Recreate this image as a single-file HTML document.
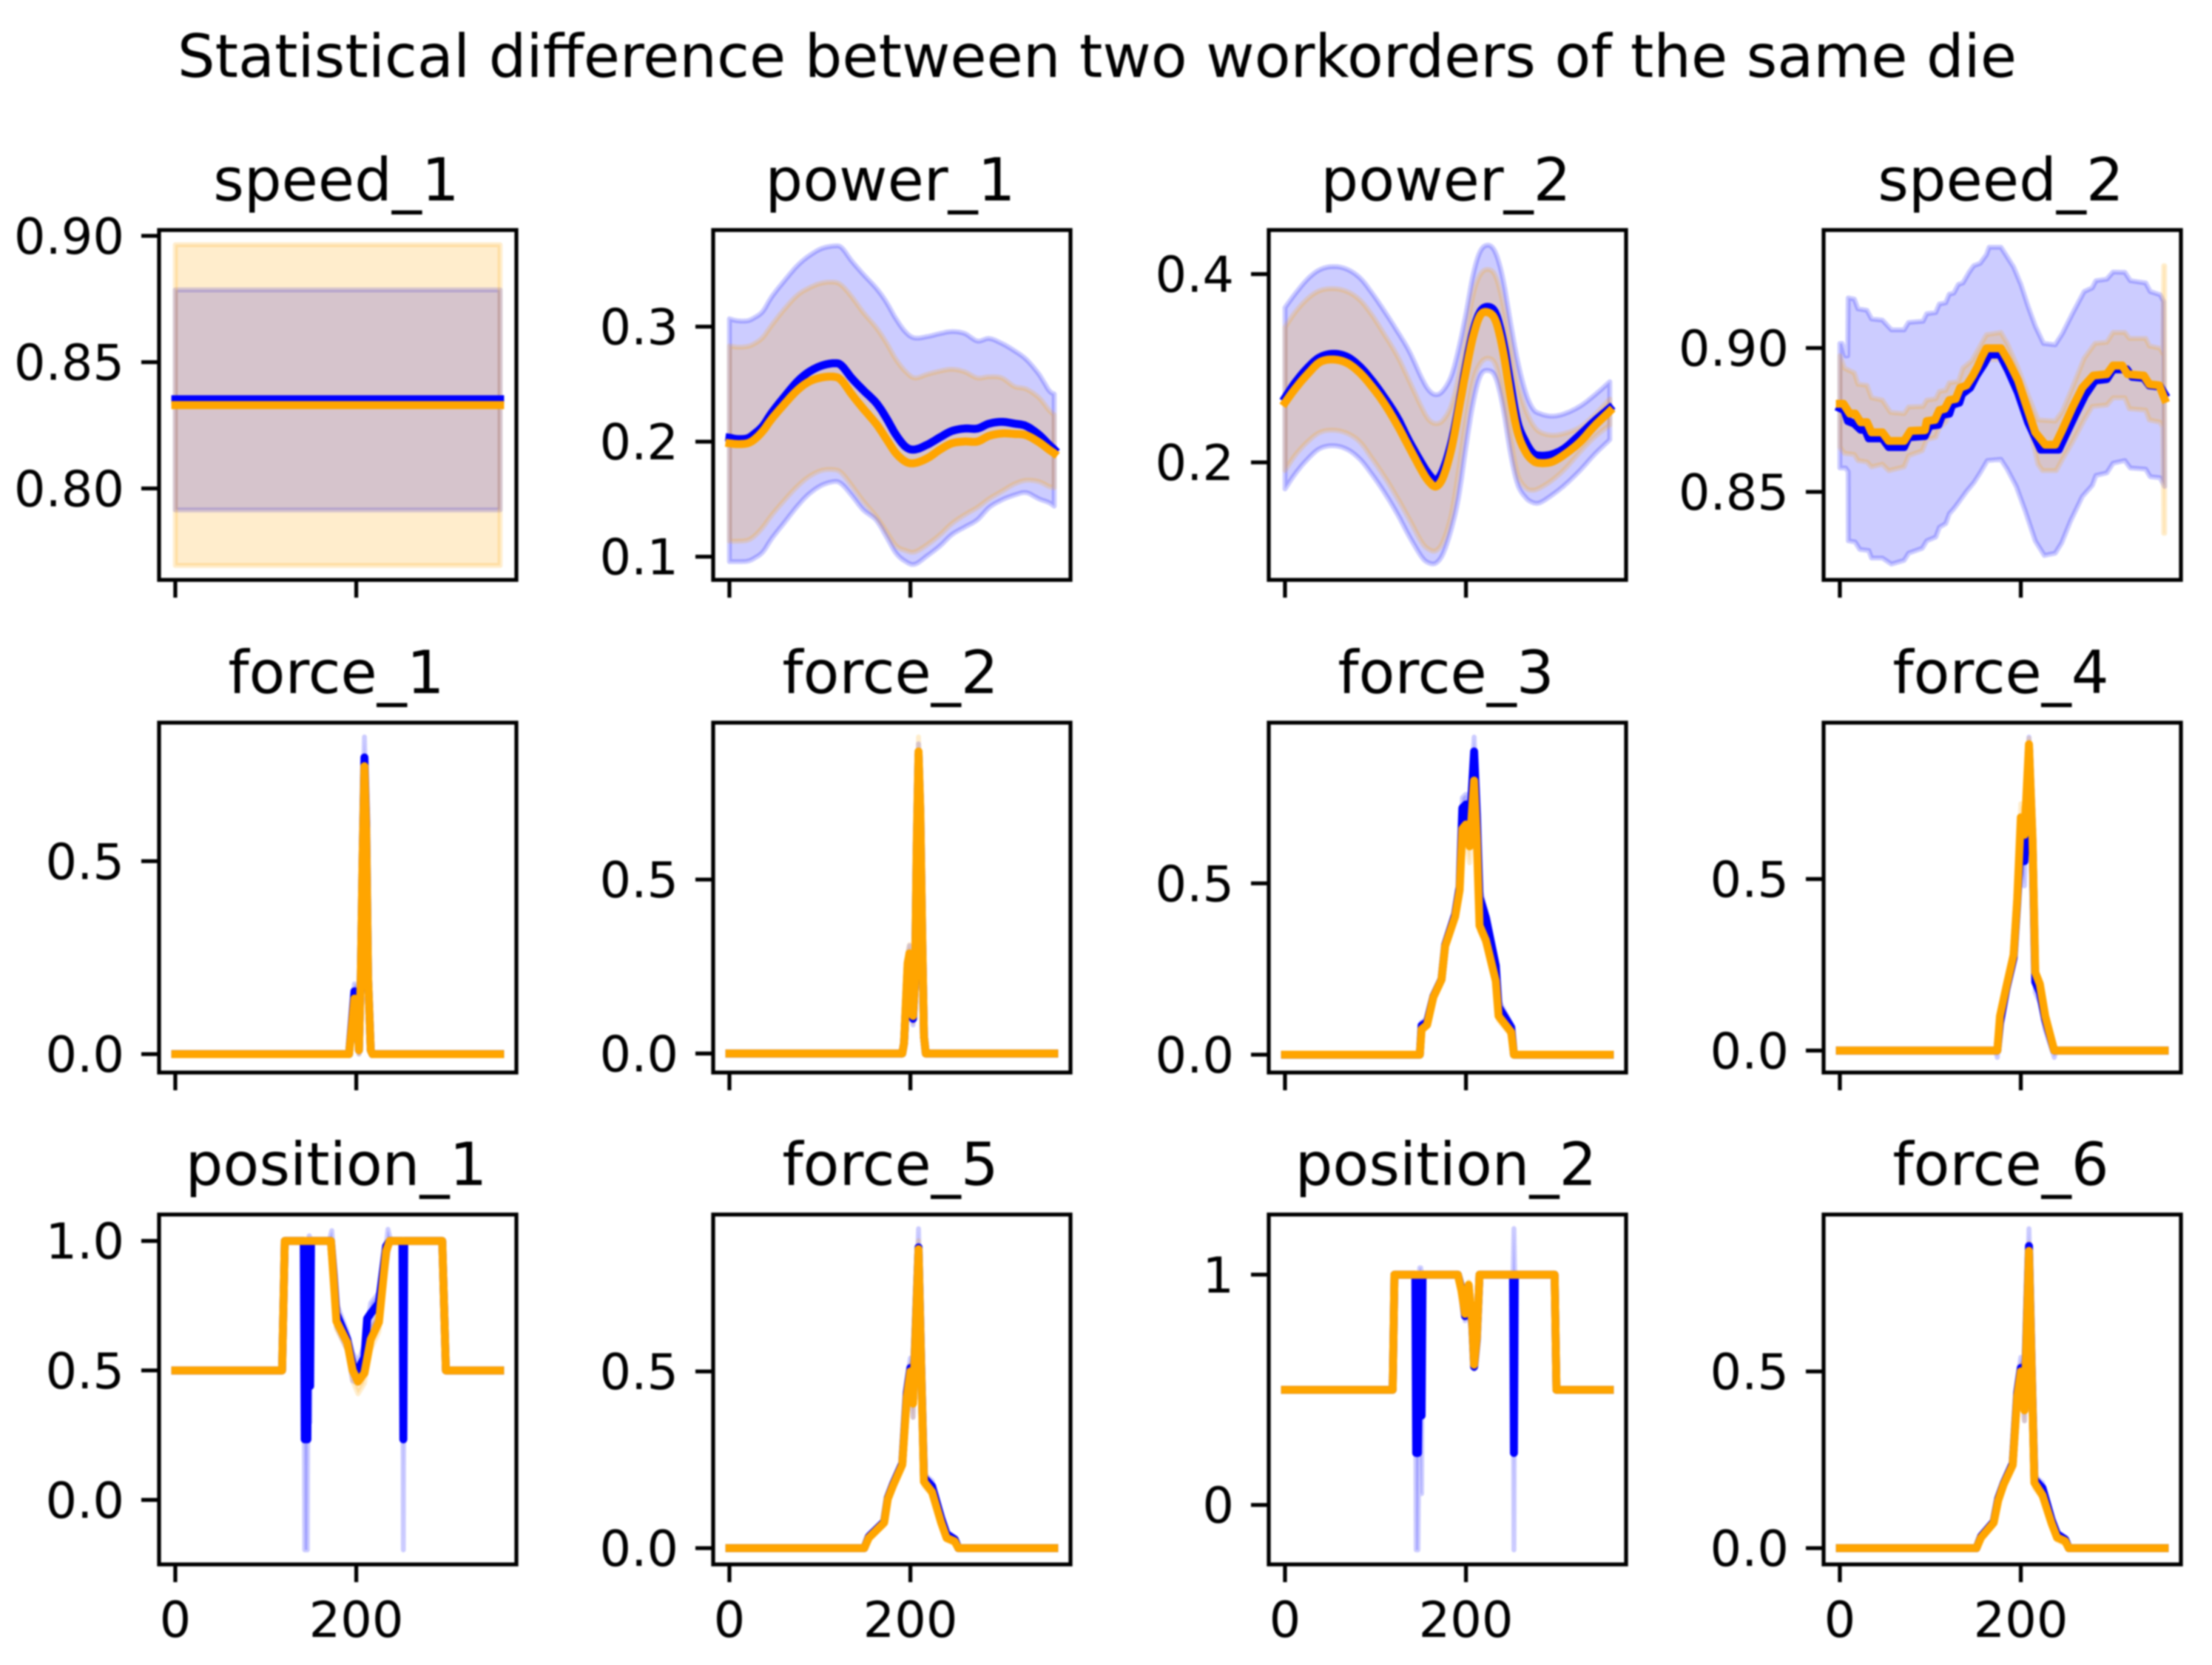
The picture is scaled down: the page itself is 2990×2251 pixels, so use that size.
<!DOCTYPE html>
<html lang="en">
<head>
<meta charset="utf-8">
<title>Statistical difference between two workorders of the same die</title>
<style>
html,body{margin:0;padding:0;background:#fff;width:2990px;height:2251px;overflow:hidden}
svg{display:block;filter:blur(1px)}
text{font-family:"DejaVu Sans","Liberation Sans",sans-serif;fill:#000}
</style>
</head>
<body>
<svg id="figure" xmlns="http://www.w3.org/2000/svg" width="2990" height="2251" viewBox="0 0 2990 2251">
<rect x="0" y="0" width="2990" height="2251" fill="#ffffff"></rect>
<text x="1483" y="104" font-size="80" text-anchor="middle">Statistical difference between two workorders of the same die</text>
</svg>
<script>
// ---------- speed_1 ----------
const speed1X=[0,359];
const speed1Blue=[.8353,.8353];
const speed1BlueHi=[.8786,.8786];
const speed1BlueLo=[.7915,.7915];
const speed1Orange=[.833,.833];
const speed1OrangeHi=[.8965,.8965];
const speed1OrangeLo=[.7695,.7695];
const speed1Ticks=[.9,.85,.8];
const speed1TickLabels=['0.90','0.85','0.80'];
const speed1YLim=[.7638,.9023];

// ---------- power_1 ----------
const power1X=[0,9,20,28,37,47,61,75,88,102,116,124,135,148,162,173,184,195,205,219,233,246,260,274,287,301,315,328,342,353,359];
const power1Blue=[.2035,.2022,.2029,.2071,.2136,.2254,.2393,.2522,.2607,.2661,.2682,.2661,.2554,.2447,.2339,.2211,.2061,.1954,.1932,.1975,.2039,.2093,.2114,.2114,.2157,.2172,.2157,.2136,.2061,.1975,.1932];
const power1BlueHi=[.3068,.3051,.3051,.3079,.3133,.3261,.3401,.3529,.3615,.3679,.3701,.3686,.3572,.3454,.3336,.3218,.3068,.295,.2901,.2914,.294,.2957,.294,.2875,.2897,.2854,.279,.2715,.2586,.2447,.2414];
const power1BlueLo=[.0957,.0957,.0961,.0989,.1042,.116,.13,.1439,.1546,.1621,.1653,.1632,.1536,.1407,.1321,.1182,.1032,.0957,.0935,.101,.1096,.1193,.1257,.1321,.1428,.1493,.1536,.1557,.1503,.1471,.1439];
const power1Orange=[.1986,.1979,.1986,.2022,.2093,.22,.2329,.2447,.2522,.2558,.2564,.2532,.2414,.2286,.2157,.2029,.19,.1825,.1814,.1857,.1932,.1986,.2001,.2001,.205,.2071,.2067,.2056,.1996,.1932,.19];
const power1OrangeHi=[.2832,.2822,.2828,.2854,.2907,.3015,.3154,.3272,.3336,.3379,.3386,.3358,.3261,.3122,.2993,.2865,.2715,.2607,.2554,.2586,.2614,.2629,.2607,.2554,.2564,.2554,.2479,.2457,.2382,.2275,.2232];
const power1OrangeLo=[.1135,.1135,.1143,.1182,.1257,.1364,.1493,.1611,.1696,.175,.1756,.1728,.1621,.1482,.1353,.1225,.1096,.1053,.1042,.1107,.1193,.1289,.1364,.1428,.1503,.1568,.1632,.1664,.1653,.1611,.16];
const power1Ticks=[.3,.2,.1];
const power1TickLabels=['0.3','0.2','0.1'];
const power1YLim=[.0798,.384];

// ---------- power_2 ----------
const power2X=[0,12,26,39,54,69,83,96,110,124,137,151,159,167,175,184,192,200,208,216,225,233,241,249,257,266,274,282,295,309,326,342,359];
const power2Blue=[.2687,.2857,.3015,.3119,.3153,.3119,.3015,.2871,.2687,.2478,.2229,.1993,.1875,.181,.1928,.2216,.2596,.3028,.3394,.3604,.3651,.3578,.329,.2844,.2425,.2216,.2098,.2072,.2085,.215,.2294,.2439,.2577];
const power2BlueHi=[.3643,.38,.3957,.4049,.408,.4049,.3957,.38,.3604,.3394,.3185,.2897,.2766,.2719,.2766,.2923,.3211,.3578,.3997,.4245,.4306,.4219,.3944,.3499,.308,.274,.2569,.2517,.2491,.2517,.2596,.2713,.2857];
const power2BlueLo=[.1718,.1889,.2046,.215,.2177,.2137,.2033,.1875,.1679,.1456,.1221,.0998,.0933,.0933,.1037,.1299,.164,.2164,.2635,.2923,.2975,.2897,.2583,.2111,.1771,.1627,.1574,.1574,.1653,.1758,.1915,.2085,.2242];
const power2Orange=[.2635,.2792,.2949,.3067,.3093,.3054,.2949,.2805,.2622,.2399,.2164,.1915,.1797,.1745,.1849,.215,.2556,.2975,.3342,.3565,.3591,.3499,.3185,.2713,.2321,.2111,.2019,.1993,.2006,.2085,.2216,.2386,.2543];
const power2OrangeHi=[.3434,.3604,.3748,.3826,.3845,.3813,.3722,.3565,.3355,.3132,.2871,.2583,.2452,.2412,.2452,.2609,.2923,.3342,.3787,.3997,.4049,.397,.3682,.3263,.2844,.2556,.2399,.2321,.2289,.2308,.2373,.2504,.2674];
const power2OrangeLo=[.1915,.2085,.2229,.2321,.2342,.2308,.2216,.2046,.1849,.1627,.1404,.1155,.1077,.1064,.1168,.1456,.1928,.2452,.2871,.3054,.3106,.3028,.2713,.2268,.1875,.1731,.1705,.1731,.181,.1928,.2111,.2268,.2399];
const power2Ticks=[.4,.2];
const power2TickLabels=['0.4','0.2'];
const power2YLim=[.0752,.4468];

// ---------- speed_2 ----------
const speed2BlueX=[0,5,9,16,23,28,32,47,54,71,76,94,99,109,113,121,124,132,135,144,151,159,165,177,186,197,208,222,242,249,260,271,282,295,302,317,323,336,342,354,359];
const speed2Blue=[.8791,.8784,.8746,.8737,.8716,.8716,.8686,.8686,.8656,.8656,.869,.8694,.8729,.8733,.8767,.8772,.8802,.881,.884,.8862,.8904,.8943,.8977,.8977,.8922,.8844,.8742,.8647,.8647,.8694,.8767,.8836,.8887,.8892,.8926,.8926,.89,.8896,.887,.8866,.884];
const speed2BlueHiX=[0,2.5,6.5,8.7,9.3,16,20,30,35,47,57,71,76,92,96,106,110,117,121,126,131,136,143,148,155,162,165,178,185,192,200,208,216,225,238,246,257,270,279,283,295,302,315,321,338,343,354,358,359];
const speed2BlueHi=[.9016,.9016,.8973,.8973,.9174,.917,.9136,.9131,.9101,.9097,.9063,.9063,.9089,.9093,.9119,.9123,.9153,.9157,.9187,.9191,.9221,.9226,.9264,.9286,.9294,.9324,.935,.935,.9316,.9281,.9221,.9144,.9076,.9016,.9011,.905,.9119,.9196,.9209,.9234,.9239,.9264,.9263,.9234,.9226,.9196,.9185,.9161,.8519];
const speed2BlueLoX=[0,6.5,9.3,9.4,17,22,32,35,47,57,71,76,91,96,106,110,117,121,126,131,140,148,155,163,178,185,195,205,216,226,238,245,255,268,279,283,295,302,315,321,338,343,354,359];
const speed2BlueLo=[.8583,.8583,.857,.833,.8326,.83,.8296,.827,.827,.8249,.8262,.8287,.8304,.833,.8343,.8377,.839,.8424,.8442,.8463,.8502,.8532,.8566,.8609,.8613,.8579,.8519,.8433,.833,.8279,.8287,.8322,.8399,.8484,.8523,.8557,.8566,.86,.8609,.8583,.8579,.8553,.8549,.8519];
const speed2OrangeX=[0,4,11,17,23,30,35,47,54,71,78,94,96,105,110,116,121,128,133,140,147,152,157,162,178,186,197,205,216,227,238,246,257,268,280,295,302,312,318,336,342,353,359];
const speed2Orange=[.8806,.8806,.8772,.8772,.8742,.8742,.8707,.8707,.8677,.8677,.8712,.8714,.8746,.875,.8784,.8789,.8819,.8823,.8862,.887,.8904,.8934,.8969,.8999,.8999,.8956,.8887,.881,.8707,.8664,.8664,.8716,.8793,.8862,.8904,.8909,.8939,.8939,.8909,.8904,.8874,.887,.8823];
const speed2OrangeHiX=[0,5,16,20,30,35,47,56,71,76,92,96,106,110,117,121,131,136,146,152,162,178,185,197,208,219,238,246,257,270,282,295,302,315,320,338,342,354,357,358,359];
const speed2OrangeHi=[.8973,.893,.8913,.8874,.887,.8827,.8819,.8776,.8772,.8795,.8797,.8819,.8823,.8849,.8853,.8879,.8883,.893,.8956,.899,.9046,.9054,.9016,.893,.8836,.875,.8746,.878,.8862,.8964,.9016,.902,.9054,.9054,.9033,.9033,.9007,.8999,.8981,.9286,.9286];
const speed2OrangeLoX=[0,5,16,20,30,35,47,54,71,76,91,96,106,110,117,121,131,136,146,152,162,178,185,195,208,219,224,239,246,257,270,279,295,302,315,320,338,342,354,357,358,359];
const speed2OrangeLo=[.8656,.8634,.863,.8609,.8604,.8587,.8596,.8574,.8587,.8626,.8643,.8682,.869,.8724,.8742,.8776,.881,.8862,.89,.8939,.896,.896,.8913,.8862,.875,.8596,.8574,.8574,.8613,.8673,.875,.8797,.8802,.8827,.8827,.8789,.8784,.875,.8742,.8724,.8356,.8356];
const speed2Ticks=[.9,.85];
const speed2TickLabels=['0.90','0.85'];
const speed2YLim=[.8194,.941];

// ---------- force_1 ----------
const force1X=[0,192,195,198,200,203,205,207,209,211,213,216,218,359];
const force1Blue=[0,0,.08,.163,.16,.01,.2,.5,.769,.6,.2,.01,0,0];
const force1BlueHi=[0,0,.1,.182,.18,.03,.3,.6,.822,.66,.25,.02,0,0];
const force1BlueLo=[0,0,.05,.13,.12,0,.15,.42,.7,.55,.15,0,0,0];
const force1Orange=[0,0,.07,.144,.14,.01,.2,.5,.746,.58,.2,.01,0,0];
const force1OrangeHi=[0,0,.08,.155,.15,.02,.25,.55,.77,.6,.22,.01,0,0];
const force1OrangeLo=[0,0,.06,.13,.13,0,.17,.45,.72,.56,.18,0,0,0];
const force1Ticks=[.5,0];
const force1TickLabels=['0.5','0.0'];
const force1YLim=[-.0477,.859];

// ---------- force_2 ----------
const force2X=[0,191,193,195,197,199,201,203,205,207,209,211,213,215,217,359];
const force2Blue=[0,0,.03,.14,.25,.28,.19,.1,.2,.58,.86,.69,.34,.05,0,0];
const force2BlueHi=[0,0,.04,.16,.28,.31,.23,.14,.25,.63,.89,.72,.37,.06,0,0];
const force2BlueLo=[0,0,.02,.12,.22,.25,.15,.082,.15,.54,.83,.66,.31,.03,0,0];
const force2Orange=[0,0,.03,.15,.26,.288,.2,.108,.2,.6,.868,.7,.35,.05,0,0];
const force2OrangeHi=[0,0,.04,.17,.29,.313,.23,.13,.25,.65,.91,.73,.38,.06,0,0];
const force2OrangeLo=[0,0,.02,.13,.23,.26,.17,.09,.16,.55,.83,.67,.32,.04,0,0];
const force2Ticks=[.5,0];
const force2TickLabels=['0.5','0.0'];
const force2YLim=[-.0546,.951];

// ---------- force_3 ----------
const force3X=[0,149,151,157,164,173,177,188,193,196,200,204,209,212,215,222,233,236,250,253,359];
const force3Blue=[0,0,.085,.095,.17,.22,.32,.41,.49,.72,.73,.66,.885,.7,.46,.4,.26,.14,.08,0,0];
const force3BlueHi=[0,0,.095,.105,.18,.23,.33,.42,.51,.75,.76,.7,.927,.74,.49,.42,.28,.16,.09,0,0];
const force3BlueLo=[0,0,.07,.085,.16,.21,.31,.4,.47,.69,.7,.62,.84,.66,.43,.38,.24,.12,.065,0,0];
const force3Orange=[0,0,.074,.087,.168,.219,.317,.403,.48,.659,.672,.608,.8,.625,.377,.334,.215,.113,.066,0,0];
const force3OrangeHi=[0,0,.08,.095,.175,.225,.325,.41,.49,.68,.7,.65,.83,.65,.39,.35,.23,.125,.075,0,0];
const force3OrangeLo=[0,0,.065,.08,.16,.21,.31,.395,.47,.63,.62,.56,.76,.6,.36,.32,.2,.1,.055,0,0];
const force3Ticks=[.5,0];
const force3TickLabels=['0.5','0.0'];
const force3YLim=[-.052,.969];

// ---------- force_4 ----------
const force4X=[0,172,174,177,184,192,196,200,204,209,213,216,221,227,237,239,359];
const force4Blue=[0,0,0,.08,.18,.27,.43,.62,.552,.884,.6,.2,.17,.09,0,0,0];
const force4BlueHi=[0,0,0,.1,.2,.29,.46,.68,.64,.914,.64,.23,.2,.11,.01,0,0];
const force4BlueLo=[0,0,-.02,.06,.16,.25,.4,.56,.48,.85,.56,.17,.14,.06,-.02,0,0];
const force4Orange=[0,0,0,.1,.186,.279,.441,.68,.629,.893,.612,.228,.194,.1,0,0,0];
const force4OrangeHi=[0,0,0,.11,.2,.29,.46,.72,.68,.91,.64,.24,.205,.11,.005,0,0];
const force4OrangeLo=[0,0,-.005,.09,.175,.265,.42,.64,.58,.87,.58,.21,.18,.09,-.005,0,0];
const force4Ticks=[.5,0];
const force4TickLabels=['0.5','0.0'];
const force4YLim=[-.064,.956];

// ---------- position_1 ----------
const position1BlueX=[0,118,121,142,143,146,147,148,149,150,151,172,175,178,190,196,202,206,209,212,216,225,233,237,251,252,253,295,299,359];
const position1Blue=[.5,.5,1,1,.234,.234,1,.44,.44,1,1,1,.87,.72,.62,.52,.5,.53,.55,.7,.72,.76,.98,1,1,.234,1,1,.5,.5];
const position1BlueHiX=[0,118,121,146,148,150,170,173,176,178,190,196,202,209,216,225,233,235,238,295,299,359];
const position1BlueHi=[.5,.5,1,1,1.02,1,1,1.04,.9,.76,.65,.57,.53,.6,.76,.8,.98,1.045,1,1,.5,.5];
const position1BlueLoX=[0,118,121,142,143,146,147,148,149,150,151,172,175,178,190,196,202,209,216,225,233,237,251,252,253,295,299,359];
const position1BlueLo=[.5,.5,1,1,-.193,-.193,1,.3,.3,1,1,1,.8,.67,.58,.46,.45,.5,.66,.7,.9,1,1,-.193,1,1,.5,.5];
const position1OrangeX=[0,118,121,172,175,178,190,196,202,209,216,225,233,237,295,299,359];
const position1Orange=[.5,.5,1,1,.85,.69,.608,.5,.457,.49,.62,.686,.96,1,1,.5,.5];
const position1OrangeHi=[.5,.5,1,1,.87,.72,.63,.54,.5,.53,.66,.72,.98,1,1,.5,.5];
const position1OrangeLo=[.5,.5,1,1,.82,.66,.58,.46,.41,.45,.58,.65,.94,1,1,.5,.5];
const position1Ticks=[1,.5,0];
const position1TickLabels=['1.0','0.5','0.0'];
const position1YLim=[-.249,1.102];

// ---------- force_5 ----------
const force5X=[0,149,154,171,175,181,191,196,200,203,209,212,215,224,234,240,249,253,359];
const force5Blue=[0,0,.032,.075,.142,.182,.24,.44,.51,.42,.851,.51,.2,.175,.085,.04,.025,0,0];
const force5BlueHi=[0,0,.04,.08,.15,.19,.25,.47,.538,.46,.904,.55,.21,.19,.095,.045,.03,0,0];
const force5BlueLo=[0,0,.025,.07,.135,.175,.23,.41,.48,.37,.8,.47,.185,.16,.075,.03,.02,0,0];
const force5Orange=[0,0,.029,.072,.139,.178,.236,.428,.5,.409,.846,.505,.188,.159,.072,.029,.019,0,0];
const force5OrangeHi=[0,0,.035,.078,.145,.185,.245,.45,.52,.44,.87,.53,.2,.17,.08,.035,.025,0,0];
const force5OrangeLo=[0,0,.023,.065,.13,.17,.228,.405,.475,.37,.82,.48,.175,.15,.065,.022,.013,0,0];
const force5Ticks=[.5,0];
const force5TickLabels=['0.5','0.0'];
const force5YLim=[-.046,.944];

// ---------- position_2 ----------
const position2BlueX=[0,119,121,144,145,147,148,149,150,151,152,191,195,199,203,207,209,212,215,252,253,254,298,300,359];
const position2Blue=[.5,.5,1,1,.226,.226,.6,.6,.388,.388,1,1,.94,.82,.95,.78,.6,.72,1,1,.226,1,1,.5,.5];
const position2BlueHi=[.5,.5,1,1,1,1,1,1.03,1.03,1,1,1,.95,.84,.96,.8,.62,.74,1,1,1.2,1,1,.5,.5];
const position2BlueLo=[.5,.5,1,1,-.195,-.195,.3,.3,.049,.049,1,1,.93,.8,.94,.76,.59,.7,1,1,-.195,1,1,.5,.5];
const position2OrangeX=[0,119,121,191,195,199,203,207,209,212,215,298,300,359];
const position2Orange=[.5,.5,1,1,.93,.83,.956,.79,.609,.73,1,1,.5,.5];
const position2OrangeHi=[.5,.5,1,1,.94,.85,.97,.82,.64,.76,1,1,.5,.5];
const position2OrangeLo=[.5,.5,1,1,.92,.81,.94,.76,.59,.71,1,1,.5,.5];
const position2Ticks=[1,0];
const position2TickLabels=['1','0'];
const position2YLim=[-.258,1.261];

// ---------- force_6 ----------
const force6X=[0,151,156,170,175,181,191,196,200,204,209,212,215,224,234,240,249,253,359];
const force6Blue=[0,0,.033,.075,.14,.183,.24,.44,.51,.41,.855,.51,.195,.17,.08,.04,.025,0,0];
const force6BlueHi=[0,0,.04,.08,.148,.19,.25,.47,.54,.45,.904,.55,.205,.185,.09,.045,.03,0,0];
const force6BlueLo=[0,0,.025,.07,.132,.175,.23,.41,.48,.36,.8,.47,.18,.155,.07,.03,.018,0,0];
const force6Orange=[0,0,.03,.072,.135,.18,.235,.43,.5,.39,.841,.5,.185,.15,.07,.03,.02,0,0];
const force6OrangeHi=[0,0,.035,.078,.142,.185,.245,.45,.52,.42,.865,.53,.195,.16,.078,.035,.024,0,0];
const force6OrangeLo=[0,0,.023,.065,.128,.17,.225,.405,.47,.36,.815,.475,.17,.14,.062,.022,.012,0,0];
const force6Ticks=[.5,0];
const force6TickLabels=['0.5','0.0'];
const force6YLim=[-.046,.944];

// ---------- shared axis ----------
const xTicks=[0,200];
const xTickLabels=['0','200'];
const xLim=[-17.95,376.95];

const panels=[
 {t:'speed_1',c:0,r:0,m:'line',lim:speed1YLim,ticks:speed1Ticks,labels:speed1TickLabels,b:[speed1X,speed1Blue],bh:[speed1X,speed1BlueHi],bl:[speed1X,speed1BlueLo],o:[speed1X,speed1Orange],oh:[speed1X,speed1OrangeHi],ol:[speed1X,speed1OrangeLo]},
 {t:'power_1',c:1,r:0,m:'smooth',lim:power1YLim,ticks:power1Ticks,labels:power1TickLabels,b:[power1X,power1Blue],bh:[power1X,power1BlueHi],bl:[power1X,power1BlueLo],o:[power1X,power1Orange],oh:[power1X,power1OrangeHi],ol:[power1X,power1OrangeLo]},
 {t:'power_2',c:2,r:0,m:'smooth',lim:power2YLim,ticks:power2Ticks,labels:power2TickLabels,b:[power2X,power2Blue],bh:[power2X,power2BlueHi],bl:[power2X,power2BlueLo],o:[power2X,power2Orange],oh:[power2X,power2OrangeHi],ol:[power2X,power2OrangeLo]},
 {t:'speed_2',c:3,r:0,m:'line',lim:speed2YLim,ticks:speed2Ticks,labels:speed2TickLabels,b:[speed2BlueX,speed2Blue],bh:[speed2BlueHiX,speed2BlueHi],bl:[speed2BlueLoX,speed2BlueLo],o:[speed2OrangeX,speed2Orange],oh:[speed2OrangeHiX,speed2OrangeHi],ol:[speed2OrangeLoX,speed2OrangeLo]},
 {t:'force_1',c:0,r:1,m:'line',lim:force1YLim,ticks:force1Ticks,labels:force1TickLabels,b:[force1X,force1Blue],bh:[force1X,force1BlueHi],bl:[force1X,force1BlueLo],o:[force1X,force1Orange],oh:[force1X,force1OrangeHi],ol:[force1X,force1OrangeLo]},
 {t:'force_2',c:1,r:1,m:'line',lim:force2YLim,ticks:force2Ticks,labels:force2TickLabels,b:[force2X,force2Blue],bh:[force2X,force2BlueHi],bl:[force2X,force2BlueLo],o:[force2X,force2Orange],oh:[force2X,force2OrangeHi],ol:[force2X,force2OrangeLo]},
 {t:'force_3',c:2,r:1,m:'line',lim:force3YLim,ticks:force3Ticks,labels:force3TickLabels,b:[force3X,force3Blue],bh:[force3X,force3BlueHi],bl:[force3X,force3BlueLo],o:[force3X,force3Orange],oh:[force3X,force3OrangeHi],ol:[force3X,force3OrangeLo]},
 {t:'force_4',c:3,r:1,m:'line',lim:force4YLim,ticks:force4Ticks,labels:force4TickLabels,b:[force4X,force4Blue],bh:[force4X,force4BlueHi],bl:[force4X,force4BlueLo],o:[force4X,force4Orange],oh:[force4X,force4OrangeHi],ol:[force4X,force4OrangeLo]},
 {t:'position_1',c:0,r:2,m:'line',lim:position1YLim,ticks:position1Ticks,labels:position1TickLabels,b:[position1BlueX,position1Blue],bh:[position1BlueHiX,position1BlueHi],bl:[position1BlueLoX,position1BlueLo],o:[position1OrangeX,position1Orange],oh:[position1OrangeX,position1OrangeHi],ol:[position1OrangeX,position1OrangeLo]},
 {t:'force_5',c:1,r:2,m:'line',lim:force5YLim,ticks:force5Ticks,labels:force5TickLabels,b:[force5X,force5Blue],bh:[force5X,force5BlueHi],bl:[force5X,force5BlueLo],o:[force5X,force5Orange],oh:[force5X,force5OrangeHi],ol:[force5X,force5OrangeLo]},
 {t:'position_2',c:2,r:2,m:'line',lim:position2YLim,ticks:position2Ticks,labels:position2TickLabels,b:[position2BlueX,position2Blue],bh:[position2BlueX,position2BlueHi],bl:[position2BlueX,position2BlueLo],o:[position2OrangeX,position2Orange],oh:[position2OrangeX,position2OrangeHi],ol:[position2OrangeX,position2OrangeLo]},
 {t:'force_6',c:3,r:2,m:'line',lim:force6YLim,ticks:force6Ticks,labels:force6TickLabels,b:[force6X,force6Blue],bh:[force6X,force6BlueHi],bl:[force6X,force6BlueLo],o:[force6X,force6Orange],oh:[force6X,force6OrangeHi],ol:[force6X,force6OrangeLo]}
];

const colLeft=[215,964,1715,2465];
const rowTop=[311,977,1642];
const AW=483, AH=473, FRAME=5.3, TICK=24, LW=10.8, EDGE=6.67;
const BLUE='#0000ff', ORANGE='#ffa500';
const NS='http://www.w3.org/2000/svg';
const svg=document.getElementById('figure');

function mk(tag,attrs,parent){
  const el=document.createElementNS(NS,tag);
  for(const k in attrs) el.setAttribute(k,attrs[k]);
  parent.appendChild(el);
  return el;
}
function trace(series,mode,sx,sy){
  const xs=series[0], ys=series[1], pts=[];
  if(mode==='smooth'){
    const n=xs.length;
    for(let i=0;i<n-1;i++){
      const a=Math.max(i-1,0), d=Math.min(i+2,n-1);
      for(let s=0;s<8;s++){
        const u=s/8,u2=u*u,u3=u2*u;
        const cr=(p0,p1,p2,p3)=>.5*(2*p1+(p2-p0)*u+(2*p0-5*p1+4*p2-p3)*u2+(3*p1-p0-3*p2+p3)*u3);
        pts.push([sx(cr(xs[a],xs[i],xs[i+1],xs[d])),sy(cr(ys[a],ys[i],ys[i+1],ys[d]))]);
      }
    }
    pts.push([sx(xs[n-1]),sy(ys[n-1])]);
    return pts;
  }
  for(let i=0;i<xs.length;i++) pts.push([sx(xs[i]),sy(ys[i])]);
  return pts;
}
function toD(pts,close){
  return pts.map((p,i)=>(i?'L':'M')+p[0].toFixed(1)+' '+p[1].toFixed(1)).join('')+(close?'Z':'');
}

panels.forEach(function(p){
  const L=colLeft[p.c], T=rowTop[p.r];
  const sx=v=>L+(v-xLim[0])/(xLim[1]-xLim[0])*AW;
  const sy=v=>T+AH-(v-p.lim[0])/(p.lim[1]-p.lim[0])*AH;

  const g=mk('g',{},svg);
  
  

  const bandB=mk('path',{d:toD(trace(p.bh,p.m,sx,sy).concat(trace(p.bl,p.m,sx,sy).reverse()),true),fill:BLUE,'fill-opacity':.2,stroke:BLUE,'stroke-opacity':.2,'stroke-width':EDGE,'stroke-linejoin':'round'},g);
  
  

  const bandO=mk('path',{d:toD(trace(p.oh,p.m,sx,sy).concat(trace(p.ol,p.m,sx,sy).reverse()),true),fill:ORANGE,'fill-opacity':.2,stroke:ORANGE,'stroke-opacity':.2,'stroke-width':EDGE,'stroke-linejoin':'round'},g);
  
  

  const lineB=mk('path',{d:toD(trace(p.b,p.m,sx,sy)),fill:'none',stroke:BLUE,'stroke-width':LW,'stroke-linejoin':'round','stroke-linecap':'square'},g);
  
  

  const lineO=mk('path',{d:toD(trace(p.o,p.m,sx,sy)),fill:'none',stroke:ORANGE,'stroke-width':LW,'stroke-linejoin':'round','stroke-linecap':'square'},g);
  
  

  const frame=mk('rect',{x:L,y:T,width:AW,height:AH,fill:'none',stroke:'#000','stroke-width':FRAME,'stroke-linejoin':'miter'},g);
  
  

  const title=mk('text',{x:L+AW/2-2,y:T-40,'font-size':80,'text-anchor':'middle'},g);
  title.textContent=p.t;
  
  

  p.ticks.forEach(function(v,i){
    const tk=mk('line',{x1:L,x2:L-TICK,y1:sy(v),y2:sy(v),stroke:'#000','stroke-width':FRAME},g);
    
    
    const lb=mk('text',{x:L-TICK-23,y:sy(v)+24,'font-size':67,'text-anchor':'end'},g);
    lb.textContent=p.labels[i];
    
    
  });
  xTicks.forEach(function(v,i){
    const tk=mk('line',{x1:sx(v),x2:sx(v),y1:T+AH,y2:T+AH+TICK,stroke:'#000','stroke-width':FRAME},g);
    
    
    if(p.r===2){
      const lb=mk('text',{x:sx(v),y:T+AH+98,'font-size':67,'text-anchor':'middle'},g);
      lb.textContent=xTickLabels[i];
      
      
    }
  });
});
</script>
</body>
</html>
